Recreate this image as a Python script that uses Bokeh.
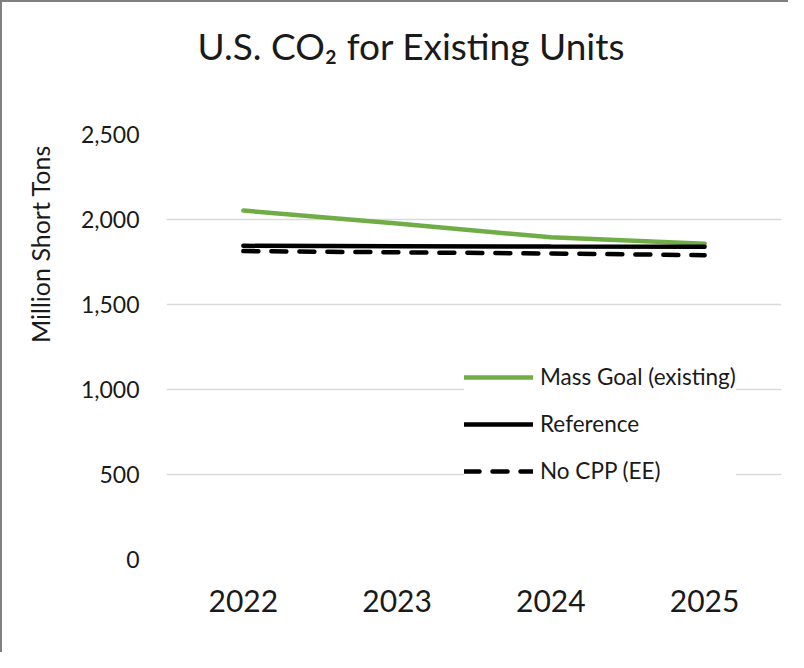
from bokeh.plotting import figure
from bokeh.models import (FactorRange, Range1d, Legend, LegendItem, Title,
                          FixedTicker, NumeralTickFormatter)
from bokeh.embed import file_html
from bokeh.resources import INLINE

years = ["2022", "2023", "2024", "2025"]
mass_goal = [2053, 1976, 1895, 1858]
reference = [1845, 1843, 1841, 1840]
no_cpp = [1814, 1807, 1800, 1790]
y_ticks = [0, 500, 1000, 1500, 2000, 2500]

FONT = "Lato"
INK = "#1a1a1a"

p = figure(width=788, height=652, x_range=FactorRange(*years),
           y_range=Range1d(0, 2500), output_backend="svg",
           toolbar_location=None, min_border_left=164, min_border_right=9,
           min_border_top=132, min_border_bottom=95)
p.styles = {"border-top": "2px solid #808080", "border-left": "2px solid #808080"}
p.outline_line_color = None
p.background_fill_color = "white"
p.border_fill_color = "white"

# spacer between the frame and the main title
p.add_layout(Title(text=" ", text_font_size="1px", standoff=64), "above")

p.title.text = "U.S. CO\u2082 for Existing Units"
p.title.align = "left"
p.title.offset = 31
p.title.standoff = 0
p.title.text_font = FONT
p.title.text_font_size = "37px"
p.title.text_font_style = "normal"
p.title.text_color = INK

ytitle = Title(text="Million Short Tons", align="right", offset=10.5,
               vertical_align="top", standoff=41,
               text_font=FONT, text_font_size="25px", text_font_style="normal",
               text_color=INK)
p.add_layout(ytitle, "left")

gm = p.line(years, mass_goal, line_color="#70AD47", line_width=4.5, line_cap="round")
rf = p.line(years, reference, line_color="black", line_width=4.5, line_cap="round")
nc = p.line(years, no_cpp, line_color="black", line_width=4.5, line_dash="15 13",
            line_cap="round")

p.xgrid.grid_line_color = None
p.ygrid.grid_line_color = "#d9d9d9"
p.ygrid.grid_line_width = 1.5
p.ygrid.ticker = FixedTicker(ticks=y_ticks)

p.yaxis.ticker = FixedTicker(ticks=y_ticks)
p.yaxis.formatter = NumeralTickFormatter(format="0,0")
for ax in (p.xaxis[0], p.yaxis[0]):
    ax.axis_line_color = None
    ax.major_tick_line_color = None
    ax.minor_tick_line_color = None
    ax.major_tick_out = 0
    ax.major_tick_in = 0
    ax.major_label_text_font = FONT
    ax.major_label_text_color = INK
p.yaxis.major_label_text_font_size = "23px"
p.yaxis.major_label_standoff = 27
p.xaxis.major_label_text_font_size = "30px"
p.xaxis.major_label_standoff = 30

legend = Legend(items=[LegendItem(label="Mass Goal (existing)", renderers=[gm]),
                       LegendItem(label="Reference", renderers=[rf]),
                       LegendItem(label="No CPP (EE)", renderers=[nc])],
                location=(298, 75), glyph_width=69, glyph_height=20, spacing=20,
                padding=18, margin=0, label_standoff=7,
                label_text_font=FONT, label_text_font_size="22.5px",
                label_text_color=INK, border_line_color=None,
                background_fill_color="white", background_fill_alpha=1.0)
p.add_layout(legend)

open("out.html", "w").write(file_html(p, INLINE))
